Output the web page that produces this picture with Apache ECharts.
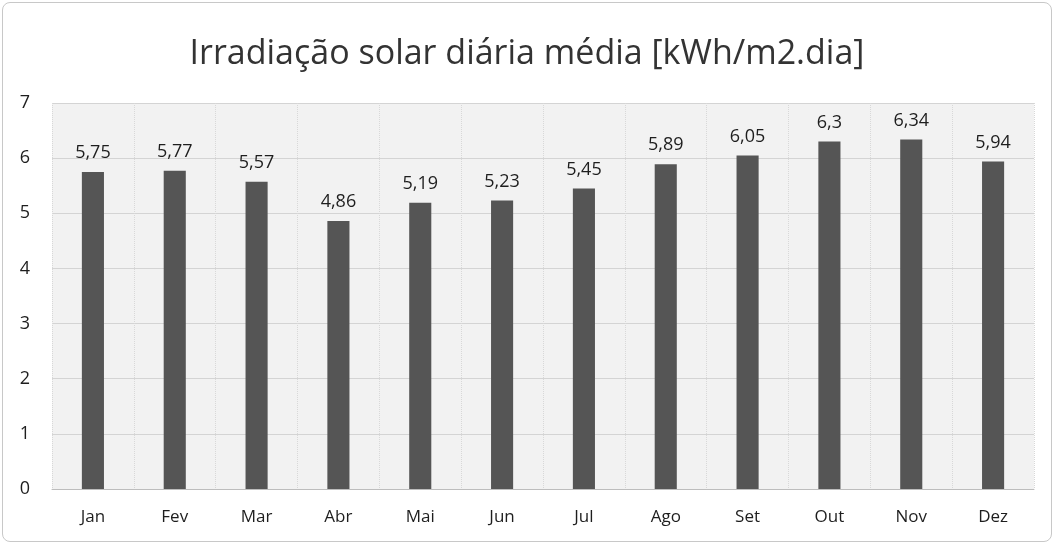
<!DOCTYPE html>
<html>
<head>
<meta charset="utf-8">
<script src="https://cdn.jsdelivr.net/npm/echarts@6/dist/echarts.min.js"></script>
<style>
  html, body { margin: 0; padding: 0; background: #fff; }
  #chart {
    width: 1050px; height: 540px; margin: 2px;
    box-sizing: border-box;
    border: 1px solid #c8c8c8;
    border-radius: 8px;
  }
</style>
</head>
<body>
<div id="chart"></div>
<script>
// meses e irradiação média (kWh/m2.dia)
const months = ["Jan", "Fev", "Mar", "Abr", "Mai", "Jun", "Jul", "Ago", "Set", "Out", "Nov", "Dez"];
const irradiation = [5.75, 5.77, 5.57, 4.86, 5.19, 5.23, 5.45, 5.89, 6.05, 6.3, 6.34, 5.94];
const yTicks = [0, 1, 2, 3, 4, 5, 6, 7];

const myChart = echarts.init(document.getElementById("chart"));

const option = {
  textStyle: { fontFamily: "Open Sans" },
  title: {
    text: "Irradiação solar diária média [kWh/m2.dia]",
    left: "center",
    top: 29,
    textStyle: { fontSize: 34, fontWeight: "normal", color: "#333333", fontFamily: "Open Sans" },
  },
  grid: {
    left: 49, right: 17, top: 100, bottom: 52,
    show: true,
    backgroundColor: "#f2f2f2",
    borderWidth: 0,
  },
  xAxis: {
    type: "category",
    data: months,
    axisLine: { show: true, lineStyle: { color: "#bdbdbd" } },
    axisTick: { show: false },
    splitLine: { show: true, lineStyle: { color: "#d8d8d8", type: "dotted" } },
    axisLabel: { fontSize: 17, color: "#1e1e1e", margin: 20 },
  },
  yAxis: {
    type: "value",
    min: yTicks[0],
    max: yTicks[yTicks.length - 1],
    interval: 1,
    axisLine: { show: false },
    axisTick: { show: false },
    splitLine: { show: true, lineStyle: { color: "#d4d4d4" } },
    axisLabel: { fontSize: 18, color: "#1e1e1e", margin: 22 },
  },
  series: [
    {
      type: "bar",
      data: irradiation,
      barWidth: "27%",
      itemStyle: { color: "#555555" },
      label: {
        show: true,
        position: "top",
        distance: 10,
        fontSize: 18,
        color: "#1e1e1e",
        formatter: (p) => String(p.value).replace(".", ","),
      },
    },
  ],
};

myChart.setOption(option);
</script>
</body>
</html>
